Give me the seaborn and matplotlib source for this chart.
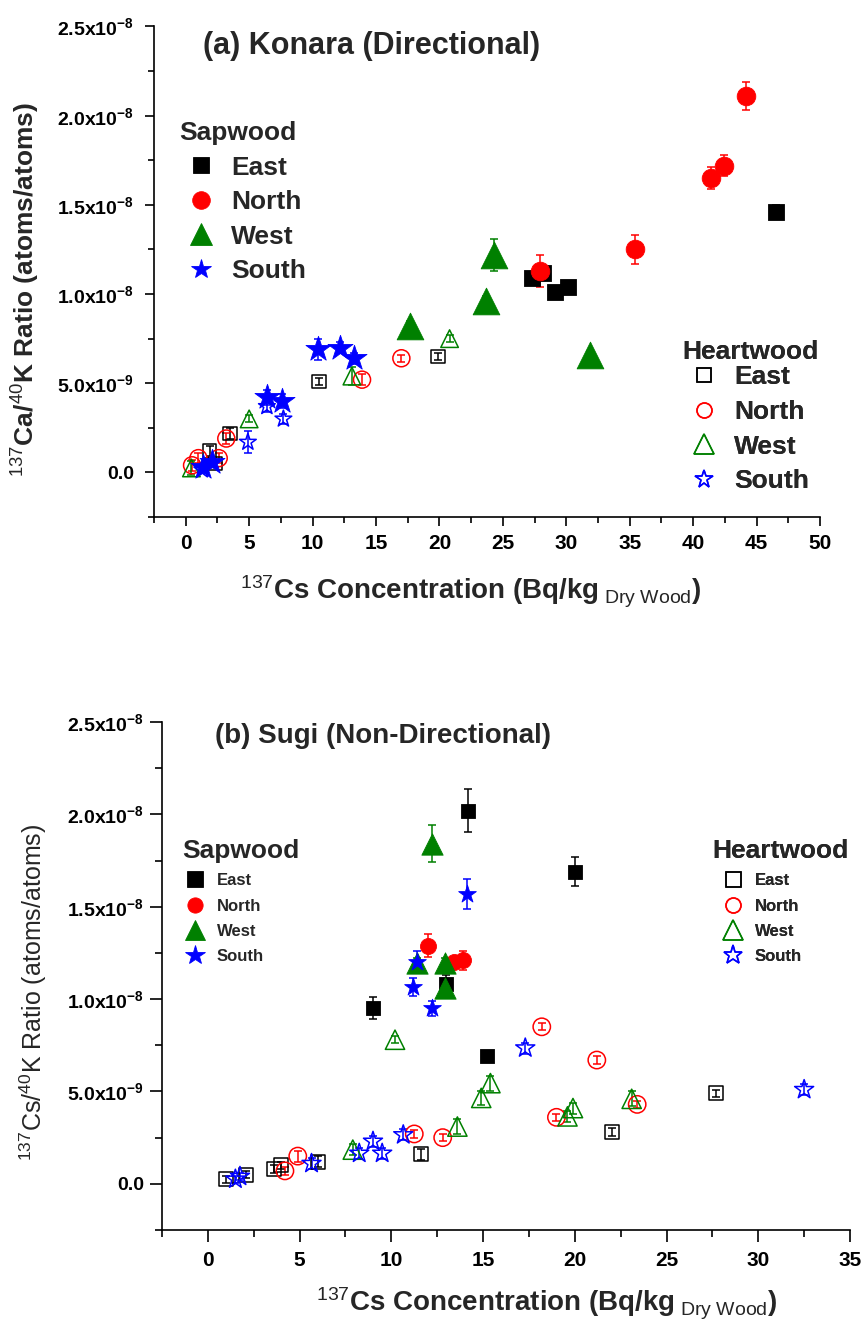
import numpy as np
import pandas as pd
import matplotlib
matplotlib.use("Agg")
import matplotlib.pyplot as plt
import seaborn as sns
from matplotlib.lines import Line2D
from matplotlib.ticker import MultipleLocator
from matplotlib.font_manager import FontProperties, fontManager

# ---------------- data (ratio values in units of 1e-9 atoms/atoms) ----------------
directions = ["East", "North", "West", "South"]
colors = ["#000000", "#FF0000", "#008000", "#0000FF"]
markers = ["s", "o", "^", "*"]

# (a) Konara (Directional) - Sapwood
a_sap_east_x = [27.3, 28.2, 29.1, 30.1, 46.5]
a_sap_east_y = [10.9, 11.2, 10.1, 10.4, 14.6]
a_sap_east_e = [0.2, 0.2, 0.2, 0.2, 0.4]
a_sap_north_x = [27.9, 35.4, 41.4, 42.4, 44.2]
a_sap_north_y = [11.3, 12.5, 16.5, 17.2, 21.1]
a_sap_north_e = [0.9, 0.8, 0.6, 0.6, 0.8]
a_sap_west_x = [17.7, 23.7, 24.3, 31.9]
a_sap_west_y = [8.2, 9.6, 12.2, 6.6]
a_sap_west_e = [0.3, 0.3, 0.9, 0.2]
a_sap_south_x = [1.4, 2.1, 6.4, 7.6, 10.4, 12.2, 13.3]
a_sap_south_y = [0.3, 0.6, 4.2, 4.0, 6.9, 7.0, 6.4]
a_sap_south_e = [0.2, 0.2, 0.4, 0.4, 0.6, 0.3, 0.3]
# (a) Konara - Heartwood
a_hw_east_x = [2.3, 1.9, 3.5, 10.5, 19.9]
a_hw_east_y = [0.5, 1.2, 2.2, 5.1, 6.5]
a_hw_east_e = [0.2, 0.3, 0.3, 0.2, 0.2]
a_hw_north_x = [0.5, 1.0, 2.6, 3.2, 13.9, 17.0]
a_hw_north_y = [0.4, 0.8, 0.8, 1.9, 5.2, 6.4]
a_hw_north_e = [0.3, 0.3, 0.3, 0.3, 0.3, 0.2]
a_hw_west_x = [0.45, 5.0, 13.1, 20.8]
a_hw_west_y = [0.25, 3.0, 5.4, 7.5]
a_hw_west_e = [0.4, 0.2, 0.5, 0.2]
a_hw_south_x = [1.3, 4.9, 6.4, 7.7]
a_hw_south_y = [0.15, 1.7, 3.7, 3.0]
a_hw_south_e = [0.2, 0.6, 0.3, 0.3]

# (b) Sugi (Non-Directional) - Sapwood
b_sap_east_x = [9.0, 13.0, 14.2, 15.2, 20.0]
b_sap_east_y = [9.5, 10.8, 20.2, 6.9, 16.9]
b_sap_east_e = [0.6, 0.5, 1.15, 0.2, 0.8]
b_sap_north_x = [12.0, 13.4, 13.9]
b_sap_north_y = [12.9, 12.0, 12.1]
b_sap_north_e = [0.6, 0.3, 0.5]
b_sap_west_x = [12.2, 11.4, 12.9, 12.9]
b_sap_west_y = [18.4, 11.95, 11.95, 10.6]
b_sap_west_e = [1.0, 0.3, 0.3, 0.5]
b_sap_south_x = [14.1, 11.4, 11.2, 12.2]
b_sap_south_y = [15.7, 12.0, 10.65, 9.5]
b_sap_south_e = [0.8, 0.6, 0.5, 0.4]
# (b) Sugi - Heartwood
b_hw_east_x = [1.0, 2.1, 3.6, 4.0, 6.0, 11.6, 22.05, 27.7]
b_hw_east_y = [0.25, 0.5, 0.8, 1.0, 1.2, 1.6, 2.8, 4.9]
b_hw_east_e = [0.2, 0.2, 0.2, 0.2, 0.3, 0.3, 0.2, 0.2]
b_hw_north_x = [4.2, 4.9, 11.25, 12.8, 18.2, 19.0, 21.2, 23.4]
b_hw_north_y = [0.7, 1.5, 2.7, 2.5, 8.5, 3.6, 6.7, 4.3]
b_hw_north_e = [0.2, 0.3, 0.2, 0.2, 0.2, 0.2, 0.2, 0.2]
b_hw_west_x = [7.9, 10.2, 13.6, 14.9, 15.4, 19.6, 19.9, 23.1]
b_hw_west_y = [1.85, 7.8, 3.1, 4.65, 5.45, 3.65, 4.1, 4.6]
b_hw_west_e = [0.3, 0.2, 0.4, 0.4, 0.4, 0.3, 0.3, 0.4]
b_hw_south_x = [1.5, 1.75, 5.65, 8.25, 9.0, 9.5, 10.65, 17.3, 32.5]
b_hw_south_y = [0.25, 0.4, 1.1, 1.65, 2.3, 1.65, 2.65, 7.35, 5.1]
b_hw_south_e = [0.2, 0.2, 0.3, 0.3, 0.3, 0.3, 0.3, 0.3, 0.3]

y_tick_values = [0.0, 5e-9, 1e-8, 1.5e-8, 2e-8, 2.5e-8]
y_tick_labels = ["0.0", r"$\mathbf{5.0x10^{-9}}$", r"$\mathbf{1.0x10^{-8}}$",
                 r"$\mathbf{1.5x10^{-8}}$", r"$\mathbf{2.0x10^{-8}}$", r"$\mathbf{2.5x10^{-8}}$"]
a_x_ticks = [0, 5, 10, 15, 20, 25, 30, 35, 40, 45, 50]
b_x_ticks = [0, 5, 10, 15, 20, 25, 30, 35]

title_a = "(a) Konara (Directional)"
title_b = "(b) Sugi (Non-Directional)"
ylabel_a = r"$^{137}$Ca/$^{40}$K Ratio (atoms/atoms)"
ylabel_b = r"$^{137}$Cs/$^{40}$K Ratio (atoms/atoms)"
xlabel = r"$^{137}$Cs Concentration (Bq/kg$_{\mathrm{\ Dry\ Wood}}$)"

# ---------------- style ----------------
sns.set_theme(style="ticks")
names = {f.name for f in fontManager.ttflist}
FONT = "Liberation Sans" if "Liberation Sans" in names else "DejaVu Sans"
plt.rcParams["font.family"] = [FONT, "DejaVu Sans"]
plt.rcParams["mathtext.fontset"] = "custom"
plt.rcParams["mathtext.rm"] = FONT
plt.rcParams["mathtext.bf"] = FONT + ":bold"
plt.rcParams["mathtext.it"] = FONT + ":italic"
plt.rcParams["mathtext.sf"] = FONT
plt.rcParams["axes.edgecolor"] = "black"
plt.rcParams["xtick.color"] = "black"
plt.rcParams["ytick.color"] = "black"

W, H = 863, 1321
fig = plt.figure(figsize=(W / 100, H / 100), dpi=100)
fig.patch.set_facecolor("white")


def px_axes(l, t, r, b):
    return fig.add_axes([l / W, 1 - b / H, (r - l) / W, (b - t) / H])


ax_a = px_axes(154, 26.5, 820, 517)
ax_b = px_axes(162, 722, 850, 1230)


def draw(ax, x, y, e, marker, color, filled, s, lw=1.1):
    df = pd.DataFrame({"x": x, "y": np.asarray(y) * 1e-9, "e": np.asarray(e) * 1e-9})
    ax.errorbar(df["x"], df["y"], yerr=df["e"], fmt="none", ecolor=color,
                elinewidth=1.1, capsize=3, capthick=1.1, zorder=2)
    if filled:
        sns.scatterplot(data=df, x="x", y="y", marker=marker, s=s, color=color,
                        edgecolor=color, linewidth=0.6, ax=ax, zorder=3, legend=False)
    else:
        sns.scatterplot(data=df, x="x", y="y", marker=marker, s=s, facecolor="none",
                        edgecolor=color, linewidth=lw, ax=ax, zorder=3, legend=False)


a_sap = [(a_sap_east_x, a_sap_east_y, a_sap_east_e), (a_sap_north_x, a_sap_north_y, a_sap_north_e),
         (a_sap_west_x, a_sap_west_y, a_sap_west_e), (a_sap_south_x, a_sap_south_y, a_sap_south_e)]
a_hw = [(a_hw_east_x, a_hw_east_y, a_hw_east_e), (a_hw_north_x, a_hw_north_y, a_hw_north_e),
        (a_hw_west_x, a_hw_west_y, a_hw_west_e), (a_hw_south_x, a_hw_south_y, a_hw_south_e)]
b_sap = [(b_sap_east_x, b_sap_east_y, b_sap_east_e), (b_sap_north_x, b_sap_north_y, b_sap_north_e),
         (b_sap_west_x, b_sap_west_y, b_sap_west_e), (b_sap_south_x, b_sap_south_y, b_sap_south_e)]
b_hw = [(b_hw_east_x, b_hw_east_y, b_hw_east_e), (b_hw_north_x, b_hw_north_y, b_hw_north_e),
        (b_hw_west_x, b_hw_west_y, b_hw_west_e), (b_hw_south_x, b_hw_south_y, b_hw_south_e)]

a_sap_s = [132, 180, 370, 360]
a_hw_s = [92, 150, 160, 160]
b_sap_s = [92, 133, 236, 180]
b_hw_s = [100, 156, 193, 207]

for i in range(4):
    draw(ax_a, *a_hw[i], markers[i], colors[i], False, a_hw_s[i])
for i in range(4):
    draw(ax_a, *a_sap[i], markers[i], colors[i], True, a_sap_s[i])
for i in range(4):
    draw(ax_b, *b_hw[i], markers[i], colors[i], False, b_hw_s[i])
for i in range(4):
    draw(ax_b, *b_sap[i], markers[i], colors[i], True, b_sap_s[i])


def frame(ax, xmax, xticks, xpad, ypad, maj, mnr):
    ax.set_xlim(-2.5, xmax)
    ax.set_ylim(-2.5e-9, 2.5e-8)
    ax.set_xticks(xticks)
    ax.set_xticklabels([str(t) for t in xticks], fontsize=15, fontweight="bold")
    ax.set_yticks(y_tick_values)
    ax.set_yticklabels(y_tick_labels, fontsize=14, fontweight="bold")
    ax.xaxis.set_minor_locator(MultipleLocator(2.5))
    ax.yaxis.set_minor_locator(MultipleLocator(2.5e-9))
    for sp in ["top", "right"]:
        ax.spines[sp].set_visible(False)
    for sp in ["left", "bottom"]:
        ax.spines[sp].set_linewidth(1.2)
    ax.tick_params(which="major", direction="out", length=maj, width=1.2)
    ax.tick_params(which="minor", direction="out", length=mnr, width=1.2)
    ax.tick_params(axis="x", which="major", pad=xpad)
    ax.tick_params(axis="y", which="major", pad=ypad)
    ax.set_facecolor("white")


frame(ax_a, 50, a_x_ticks, 6, 8, 6.5, 4.3)
frame(ax_b, 35, b_x_ticks, 7, 4.5, 8.3, 4.8)

# axis labels
ax_a.set_xlabel(xlabel, fontsize=20, fontweight="bold", va="center")
ax_a.xaxis.set_label_coords((471 - 154) / 666, (517 - 592) / 490.5)
ax_b.set_xlabel(xlabel, fontsize=20, fontweight="bold", va="center")
ax_b.xaxis.set_label_coords((547 - 162) / 688, (1230 - 1304) / 508)
ax_a.set_ylabel(ylabel_a, fontsize=19, fontweight="bold", va="center")
ax_a.yaxis.set_label_coords((26 - 154) / 666, (517 - 290) / 490.5)
ax_b.set_ylabel(ylabel_b, fontsize=18, fontweight="normal", va="center")
ax_b.yaxis.set_label_coords((33 - 162) / 688, (1230 - 992) / 508)

# titles
fig.text(203 / W, 1 - 46 / H, title_a, fontsize=22, fontweight="bold", ha="left", va="center")
fig.text(215 / W, 1 - 736 / H, title_b, fontsize=20, fontweight="bold", ha="left", va="center")


# legends
def handles(filled, sizes):
    hs = []
    for m, c, ms in zip(markers, colors, sizes):
        hs.append(Line2D([], [], linestyle="none", marker=m, markersize=ms,
                         markerfacecolor=c if filled else "none", markeredgecolor=c,
                         markeredgewidth=0.6 if filled else 1.1))
    return hs


def add_legend(ax, title, filled, sizes, anchor, fsize, hlen, hpad, lspace, title_sep=None):
    leg = ax.legend(handles(filled, sizes), directions, title=title, loc="upper left",
                    bbox_to_anchor=(anchor[0] / W, 1 - anchor[1] / H),
                    bbox_transform=fig.transFigure, frameon=False,
                    prop=FontProperties(family=FONT, weight="bold", size=fsize),
                    title_fontproperties=FontProperties(family=FONT, weight="bold", size=19),
                    alignment="left", handlelength=hlen, handletextpad=hpad,
                    labelspacing=lspace, borderpad=0, borderaxespad=0, numpoints=1)
    if title_sep is not None:
        leg._legend_box.sep = title_sep
    ax.add_artist(leg)
    return leg


add_legend(ax_a, "Sapwood", True, [11.5, 12.7, 15.6, 15.1], (179, 121), 19, 1.67, 0.3, 0.4)
add_legend(ax_a, "Heartwood", False, [9.6, 10.8, 13.9, 13.4], (682, 340), 19, 1.67, 0.3, 0.4,
           title_sep=1.0)
add_legend(ax_b, "Sapwood", True, [11, 11, 14.4, 15], (182, 839), 12, 1.56, 0.52, 0.62)
add_legend(ax_b, "Heartwood", False, [10.8, 10.8, 15, 13.9], (712, 839), 12, 2.47, 0.1, 0.62)

fig.savefig("out.png", dpi=100, facecolor="white")
